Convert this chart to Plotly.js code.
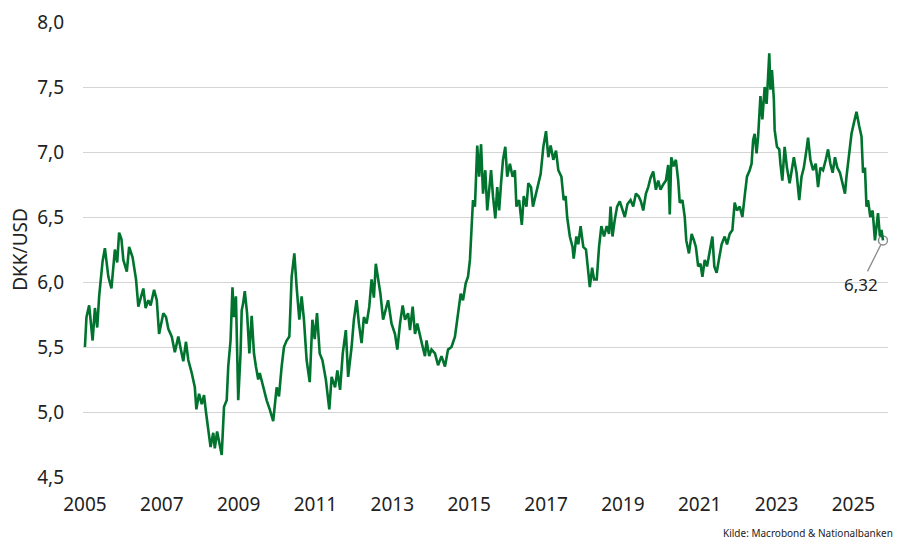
<!DOCTYPE html>
<html>
<head>
<meta charset="utf-8">
<script src="https://cdn.plot.ly/plotly-3.0.1.min.js"></script>
<style>html,body{margin:0;padding:0;background:#fff;}#chart{width:898px;height:540px;}</style>
</head>
<body>
<div id="chart"></div>
<script>
const years = [
2005.00,2005.04,2005.11,2005.20,2005.26,2005.32,2005.37,2005.46,2005.52,2005.61,2005.69,2005.78,2005.84,2005.89,2005.95,
2006.00,2006.09,2006.15,2006.24,2006.33,2006.39,2006.46,2006.52,2006.58,2006.65,2006.71,2006.80,2006.87,2006.93,
2007.04,2007.11,2007.17,2007.26,2007.34,2007.43,2007.49,2007.56,2007.63,2007.69,2007.78,2007.86,2007.90,2007.97,
2008.04,2008.10,2008.15,2008.21,2008.27,2008.34,2008.38,2008.44,2008.51,2008.56,2008.62,2008.69,2008.73,2008.79,2008.84,2008.88,2008.93,2008.99,
2009.05,2009.08,2009.12,2009.16,2009.22,2009.28,2009.34,2009.40,2009.45,2009.51,2009.55,2009.64,2009.73,2009.81,2009.90,2009.99,
2010.05,2010.12,2010.18,2010.25,2010.32,2010.38,2010.45,2010.51,2010.58,2010.64,2010.70,2010.77,2010.85,2010.92,2010.98,
2011.04,2011.11,2011.18,2011.27,2011.36,2011.42,2011.51,2011.57,2011.64,2011.71,2011.79,2011.85,2011.94,
2012.00,2012.07,2012.13,2012.20,2012.26,2012.33,2012.40,2012.46,2012.52,2012.57,2012.63,2012.69,2012.76,2012.83,2012.89,2012.98,
2013.07,2013.13,2013.20,2013.27,2013.33,2013.41,2013.46,2013.53,2013.59,2013.65,2013.72,2013.79,2013.85,2013.89,2013.96,
2014.02,2014.11,2014.19,2014.28,2014.37,2014.45,2014.54,2014.63,2014.71,2014.78,2014.84,2014.91,2014.97,
2015.02,2015.06,2015.10,2015.15,2015.21,2015.26,2015.31,2015.36,2015.42,2015.47,2015.52,2015.57,2015.62,2015.68,2015.73,2015.78,2015.83,2015.88,2015.94,2015.99,
2016.06,2016.13,2016.19,2016.23,2016.30,2016.37,2016.42,2016.49,2016.54,2016.61,2016.66,2016.73,2016.81,2016.86,2016.93,
2017.00,2017.06,2017.12,2017.19,2017.26,2017.32,2017.40,2017.46,2017.51,2017.55,2017.62,2017.69,2017.72,2017.79,2017.84,2017.90,2017.97,
2018.04,2018.10,2018.14,2018.20,2018.25,2018.32,2018.38,2018.44,2018.51,2018.58,2018.64,2018.68,2018.73,2018.79,2018.85,2018.92,2018.99,
2019.05,2019.12,2019.20,2019.27,2019.34,2019.41,2019.47,2019.53,2019.60,2019.66,2019.72,2019.79,2019.86,2019.92,2019.98,
2020.05,2020.12,2020.18,2020.22,2020.26,2020.32,2020.38,2020.44,2020.48,2020.55,2020.61,2020.65,2020.72,2020.79,2020.85,2020.90,2020.96,
2021.02,2021.07,2021.13,2021.19,2021.26,2021.33,2021.38,2021.44,2021.51,2021.57,2021.65,2021.71,2021.78,2021.85,2021.91,2021.97,
2022.04,2022.11,2022.17,2022.23,2022.30,2022.35,2022.39,2022.43,2022.48,2022.52,2022.58,2022.63,2022.69,2022.74,2022.78,2022.81,2022.84,2022.88,2022.93,2022.95,
2023.01,2023.07,2023.10,2023.15,2023.21,2023.27,2023.34,2023.39,2023.45,2023.52,2023.59,2023.65,2023.71,2023.78,2023.82,2023.88,2023.95,
2024.02,2024.08,2024.14,2024.21,2024.28,2024.34,2024.40,2024.46,2024.52,2024.58,2024.65,2024.72,2024.78,2024.82,2024.89,2024.95,
2025.01,2025.08,2025.15,2025.21,2025.25,2025.30,2025.34,2025.38,2025.44,2025.50,2025.56,2025.60,2025.64,2025.69,2025.73,2025.77
];
const dkkUsd = [
5.50,5.73,5.82,5.55,5.80,5.65,5.89,6.16,6.26,6.04,5.95,6.25,6.15,6.38,6.33,
6.17,6.08,6.27,6.19,6.02,5.81,5.89,5.95,5.80,5.86,5.82,5.94,5.86,5.60,
5.76,5.73,5.64,5.58,5.46,5.58,5.49,5.39,5.54,5.40,5.30,5.19,5.02,5.14,
5.06,5.13,5.00,4.84,4.73,4.84,4.72,4.85,4.73,4.67,5.04,5.09,5.35,5.55,5.96,5.73,5.89,5.09,
5.45,5.78,5.84,5.93,5.76,5.45,5.74,5.45,5.35,5.25,5.30,5.19,5.09,5.02,4.93,5.19,
5.12,5.35,5.50,5.55,5.58,6.04,6.22,5.96,5.71,5.89,5.71,5.40,5.23,5.71,5.56,
5.76,5.45,5.40,5.25,5.02,5.27,5.19,5.32,5.17,5.45,5.63,5.27,5.50,
5.71,5.86,5.68,5.53,5.73,5.68,5.81,6.02,5.88,6.14,6.03,5.91,5.71,5.78,5.86,5.68,
5.60,5.48,5.68,5.82,5.71,5.76,5.63,5.81,5.60,5.68,5.58,5.50,5.43,5.55,5.43,
5.48,5.45,5.36,5.43,5.35,5.48,5.50,5.58,5.76,5.91,5.86,5.99,6.04,
6.17,6.40,6.63,6.58,7.05,6.81,7.06,6.68,6.86,6.55,6.73,6.86,6.66,6.49,6.73,6.55,6.76,6.94,7.04,6.81,
6.91,6.81,6.86,6.58,6.63,6.44,6.66,6.58,6.76,6.73,6.58,6.66,6.76,6.83,7.04,
7.16,6.96,7.05,6.94,7.01,6.86,6.81,6.63,6.66,6.50,6.35,6.27,6.18,6.35,6.29,6.43,6.27,
6.25,6.07,5.96,6.11,6.02,6.02,6.27,6.43,6.35,6.43,6.37,6.58,6.35,6.48,6.58,6.62,6.55,
6.50,6.60,6.63,6.58,6.68,6.66,6.62,6.55,6.68,6.73,6.80,6.85,6.71,6.78,6.71,
6.75,6.78,6.90,6.52,6.96,6.89,6.94,6.78,6.61,6.63,6.50,6.32,6.22,6.37,6.32,6.27,6.12,
6.14,6.04,6.17,6.12,6.25,6.35,6.12,6.07,6.19,6.29,6.35,6.29,6.37,6.40,6.61,6.55,
6.58,6.50,6.66,6.81,6.86,6.91,7.09,7.14,6.99,7.12,7.43,7.25,7.50,7.37,7.58,7.76,7.48,7.63,7.40,7.17,
7.04,7.02,6.91,6.78,7.04,6.88,6.76,6.84,6.96,6.84,6.63,6.81,6.88,7.02,7.11,6.94,6.86,
6.91,6.73,6.88,6.86,6.94,7.02,6.91,6.84,6.96,6.88,6.84,6.76,6.68,6.81,6.99,7.14,
7.22,7.31,7.20,7.12,6.84,6.88,6.58,6.63,6.50,6.55,6.32,6.42,6.53,6.35,6.40,6.32
];
const xTickYears = [2005,2007,2009,2011,2013,2015,2017,2019,2021,2023,2025];
const yTicks = [4.5,5.0,5.5,6.0,6.5,7.0,7.5,8.0];
const yTitle = "DKK/USD";
const sourceText = "Kilde: Macrobond & Nationalbanken";

const lastX = years[years.length-1];
const lastY = dkkUsd[dkkUsd.length-1];
const fmt = v => v.toFixed(2).replace('.', ',');

const font = "'Noto Sans', 'Open Sans', sans-serif";
const green = "#00732e";

const traces = [
  {x:[lastX], y:[lastY], type:'scatter', mode:'markers',
   marker:{symbol:'circle-open', size:9, color:'#8c8c8c', line:{width:1.5, color:'#8c8c8c'}},
   hoverinfo:'skip', showlegend:false},
  {x:years, y:dkkUsd, type:'scatter', mode:'lines',
   line:{color:green, width:2.6}, showlegend:false}
];

const layout = {
  width:898, height:540,
  margin:{l:83, r:10, t:22, b:63},
  paper_bgcolor:'#fff', plot_bgcolor:'#fff',
  separators:',.',
  font:{family:font, color:'#222', size:19},
  showlegend:false,
  xaxis:{
    range:[2004.95, 2025.9], tickmode:'array', tickvals:xTickYears,
    ticktext:xTickYears.map(String), showgrid:false, zeroline:false, showline:false,
    ticks:'', ticklabelstandoff:14, tickfont:{size:19, family:font, color:'#222'}
  },
  yaxis:{
    range:[4.5, 8.0], tickmode:'array', tickvals:yTicks, ticktext:yTicks.map(v=>v.toFixed(1).replace('.',',')),
    showgrid:true, gridcolor:'#d4d4d4', gridwidth:1, zeroline:false, showline:false,
    ticks:'', ticklabelstandoff:18, tickfont:{size:19, family:font, color:'#222'},
    title:{text:yTitle, font:{size:19, family:font, color:'#222'}, standoff:4}
  },
  annotations:[
    {x:lastX, y:lastY, xref:'x', yref:'y', text:fmt(lastY), showarrow:true,
     arrowhead:0, arrowwidth:1.3, arrowcolor:'#8c8c8c', ax:-22, ay:44, standoff:5,
     font:{size:17, family:font, color:'#222'}},
    {x:(895-83)/805, y:-0.123, xref:'paper', yref:'paper', xanchor:'right', yanchor:'middle',
     text:sourceText, showarrow:false, font:{size:10, family:font, color:'#222'}}
  ]
};

Plotly.newPlot('chart', traces, layout, {displayModeBar:false, staticPlot:true});
</script>
</body>
</html>
